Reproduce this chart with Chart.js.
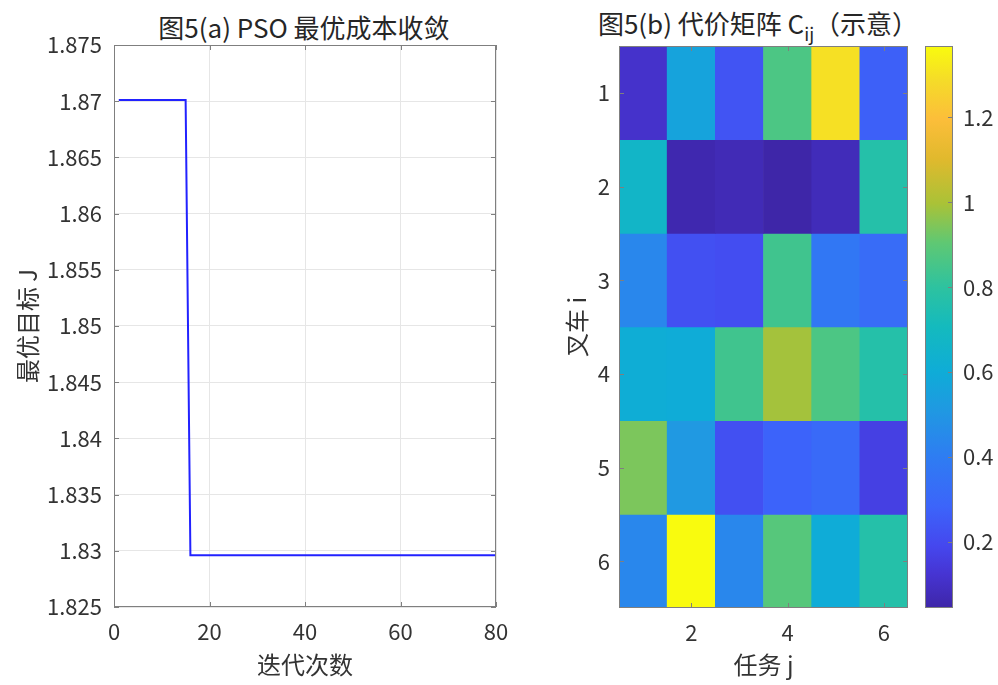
<!DOCTYPE html>
<html>
<head>
<meta charset="utf-8">
<script src="https://cdn.jsdelivr.net/npm/chart.js@4.4.1/dist/chart.umd.min.js"></script>
<style>
  body { margin: 0; background: #fff; }
  #wrap { position: relative; width: 998px; height: 685px; overflow: hidden; font-family: "Noto Sans CJK SC", sans-serif; color: #262626; }
  canvas { position: absolute; top: 0; }
  .ttl { position: absolute; font-size: 26px; line-height: 30px; white-space: nowrap; text-align: center; }
  .ttl sub { font-size: 18px; vertical-align: -7px; line-height: 0; }
</style>
</head>
<body>
<div id="wrap">
  <div class="ttl" style="left:104px; width:400px; top:12px;">图5(a) PSO 最优成本收敛</div>
  <div class="ttl" style="left:558px; width:400px; top:8px;">图5(b) 代价矩阵 C<sub>ij</sub>（示意）</div>
  <canvas id="lineChart" width="520" height="685" style="left:0"></canvas>
  <canvas id="heatChart" width="400" height="685" style="left:520px"></canvas>
  <canvas id="barChart" width="83" height="685" style="left:915px"></canvas>
</div>
<script>
// (a) PSO convergence - points where the best cost changes
const iterations = [1, 15, 16, 80]
const bestCost = [1.8701, 1.8701, 1.8296, 1.8296]
const iterTicks = [0, 20, 40, 60, 80]
const costTicks = [1.825, 1.83, 1.835, 1.84, 1.845, 1.85, 1.855, 1.86, 1.865, 1.87, 1.875]
const costTickLabels = ['1.825', '1.83', '1.835', '1.84', '1.845', '1.85', '1.855', '1.86', '1.865', '1.87', '1.875']

// (b) cost matrix C_ij, rows = forklift i, cols = task j
const forklifts = [1, 2, 3, 4, 5, 6]
const tasks = [1, 2, 3, 4, 5, 6]
const taskTicks = [2, 4, 6]
const costRow1 = [0.11, 0.56, 0.23, 0.865, 1.30, 0.27]
const costRow2 = [0.67, 0.058, 0.07, 0.0443, 0.077, 0.77]
const costRow3 = [0.44, 0.22, 0.21, 0.84, 0.375, 0.32]
const costRow4 = [0.61, 0.60, 0.84, 0.99, 0.865, 0.77]
const costRow5 = [0.94, 0.51, 0.22, 0.28, 0.31, 0.165]
const costRow6 = [0.44, 1.368, 0.44, 0.885, 0.60, 0.77]
const costMatrix = [costRow1, costRow2, costRow3, costRow4, costRow5, costRow6]
const cbarTicks = [0.2, 0.4, 0.6, 0.8, 1, 1.2]
const cbarTickLabels = ['0.2', '0.4', '0.6', '0.8', '1', '1.2']

// parula-like colormap stops [t, r, g, b]
const parulaStops = [
    [0.00, 62, 38, 168],
    [0.06, 70, 52, 210],
    [0.11, 69, 71, 238],
    [0.18, 60, 100, 250],
    [0.27, 46, 125, 242],
    [0.35, 32, 152, 226],
    [0.42, 15, 172, 215],
    [0.50, 20, 186, 190],
    [0.57, 45, 194, 160],
    [0.65, 95, 200, 115],
    [0.72, 170, 194, 55],
    [0.80, 225, 185, 45],
    [0.87, 252, 190, 58],
    [0.94, 245, 220, 40],
    [1.00, 249, 251, 14]
]

const allCosts = costMatrix.flat()
const cMin = Math.min(...allCosts)
const cMax = Math.max(...allCosts)

function parulaAt(t) {
    t = Math.max(0, Math.min(1, t))
    for (let k = 1; k < parulaStops.length; k++) {
        const a = parulaStops[k - 1], b = parulaStops[k]
        if (t <= b[0]) {
            const f = (t - a[0]) / (b[0] - a[0])
            const c = [1, 2, 3].map(n => Math.round(a[n] + (b[n] - a[n]) * f))
            return 'rgb(' + c.join(',') + ')'
        }
    }
    return 'rgb(249,251,14)'
}
const colorFor = v => parulaAt((v - cMin) / (cMax - cMin))

const TXT = '#333333'
const EDGE = '#7f7f7f'
Chart.defaults.font.family = '"Noto Sans CJK SC", "Noto Sans", sans-serif'
Chart.defaults.color = TXT
Chart.defaults.animation = false

// box around the plot area plus small inward ticks, like matlab axes
const frame = {
    id: 'frame',
    afterDatasetsDraw(chart, args, o) {
        const { ctx, chartArea: a, scales } = chart
        const len = 5
        ctx.save()
        ctx.strokeStyle = EDGE
        ctx.lineWidth = 1
        ctx.beginPath()
        if (o.x) o.x.forEach(side => scales.x.ticks.forEach(t => {
            const px = Math.round(scales.x.getPixelForValue(t.value)) + 0.5
            if (side == 'bottom') { ctx.moveTo(px, a.bottom); ctx.lineTo(px, a.bottom - len) }
            else { ctx.moveTo(px, a.top); ctx.lineTo(px, a.top + len) }
        }))
        if (o.y) o.y.forEach(side => scales.y.ticks.forEach(t => {
            const py = Math.round(scales.y.getPixelForValue(t.value)) + 0.5
            if (side == 'left') { ctx.moveTo(a.left, py); ctx.lineTo(a.left + len, py) }
            else { ctx.moveTo(a.right, py); ctx.lineTo(a.right - len, py) }
        }))
        ctx.stroke()
        ctx.strokeRect(Math.round(a.left) + 0.5, Math.round(a.top) + 0.5, Math.round(a.right - a.left) - 1, Math.round(a.bottom - a.top) - 1)
        ctx.restore()
    }
}

const tickFont = { size: 22 }
const titleFont = { size: 24 }
const noGrid = { display: false, drawTicks: false }

// ---- (a) line chart
new Chart(document.getElementById('lineChart'), {
    type: 'line',
    data: {
        datasets: [{
            data: iterations.map((it, k) => ({ x: it, y: bestCost[k] })),
            borderColor: '#2222ff',
            borderWidth: 2,
            pointRadius: 0,
            tension: 0
        }]
    },
    options: {
        responsive: false,
        layout: { padding: { top: 45, right: 24, left: 0, bottom: 0 } },
        plugins: { legend: { display: false }, tooltip: { enabled: false }, frame: { x: ['bottom', 'top'], y: ['left', 'right'] } },
        scales: {
            x: {
                type: 'linear', min: 0, max: 80,
                afterBuildTicks: s => { s.ticks = iterTicks.map(v => ({ value: v })) },
                afterFit: s => { s.height = 78 },
                grid: { color: '#e6e6e6', drawTicks: false },
                border: { display: false },
                ticks: { font: tickFont, padding: 11, maxRotation: 0 },
                title: { display: true, text: '迭代次数', font: titleFont, padding: { top: 0, bottom: 6 } }
            },
            y: {
                type: 'linear', min: 1.825, max: 1.875,
                afterBuildTicks: s => { s.ticks = costTicks.map(v => ({ value: v })) },
                afterFit: s => { s.width = 114 },
                grid: { color: '#e6e6e6', drawTicks: false },
                border: { display: false },
                ticks: { font: tickFont, padding: 12, callback: (v, i) => costTickLabels[i] },
                title: { display: true, text: '最优目标 J', font: titleFont, padding: { top: 13, bottom: 0 } }
            }
        }
    },
    plugins: [frame]
})

// ---- (b) heatmap as floating bars, one dataset per forklift row
new Chart(document.getElementById('heatChart'), {
    type: 'bar',
    data: {
        datasets: forklifts.map((i, r) => ({
            data: tasks.map(j => ({ x: j, y: [i - 0.5, i + 0.5] })),
            backgroundColor: costMatrix[r].map(colorFor),
            borderWidth: 0,
            barPercentage: 1,
            categoryPercentage: 1,
            grouped: false
        }))
    },
    options: {
        responsive: false,
        layout: { padding: { top: 46, right: 12, left: 0, bottom: 0 } },
        plugins: { legend: { display: false }, tooltip: { enabled: false }, frame: { x: ['bottom', 'top'], y: ['left', 'right'] } },
        scales: {
            x: {
                type: 'linear', min: 0.5, max: 6.5, offset: false,
                afterBuildTicks: s => { s.ticks = taskTicks.map(v => ({ value: v })) },
                afterFit: s => { s.height = 77 },
                grid: noGrid,
                border: { display: false },
                ticks: { font: tickFont, padding: 11, maxRotation: 0 },
                title: { display: true, text: '任务 j', font: titleFont, padding: { top: 0, bottom: 6 } }
            },
            y: {
                type: 'linear', min: 0.5, max: 6.5, reverse: true,
                afterBuildTicks: s => { s.ticks = forklifts.map(v => ({ value: v })) },
                afterFit: s => { s.width = 99 },
                grid: noGrid,
                border: { display: false },
                ticks: { font: tickFont, padding: 9 },
                title: { display: true, text: '叉车 i', font: titleFont, padding: { top: 42, bottom: 0 } }
            }
        }
    },
    plugins: [frame]
})

// ---- colorbar: one floating bar spanning cMin..cMax filled with the colormap
new Chart(document.getElementById('barChart'), {
    type: 'bar',
    data: {
        labels: ['C'],
        datasets: [{
            data: [[cMin, cMax]],
            backgroundColor: c => {
                const a = c.chart.chartArea
                if (!a) return null
                const g = c.chart.ctx.createLinearGradient(0, a.bottom, 0, a.top)
                parulaStops.forEach(s => g.addColorStop(s[0], 'rgb(' + s[1] + ',' + s[2] + ',' + s[3] + ')'))
                return g
            },
            borderWidth: 0,
            barPercentage: 1,
            categoryPercentage: 1
        }]
    },
    options: {
        responsive: false,
        layout: { padding: { top: 46, right: 0, left: 10, bottom: 77 } },
        plugins: { legend: { display: false }, tooltip: { enabled: false }, frame: { y: ['right'] } },
        scales: {
            x: { display: false },
            y: {
                type: 'linear', min: cMin, max: cMax, position: 'right',
                afterBuildTicks: s => { s.ticks = cbarTicks.map(v => ({ value: v })) },
                afterFit: s => { s.width = 45 },
                grid: noGrid,
                border: { display: false },
                ticks: { font: tickFont, padding: 10, callback: (v, i) => cbarTickLabels[i] }
            }
        }
    },
    plugins: [frame]
})
</script>
</body>
</html>
